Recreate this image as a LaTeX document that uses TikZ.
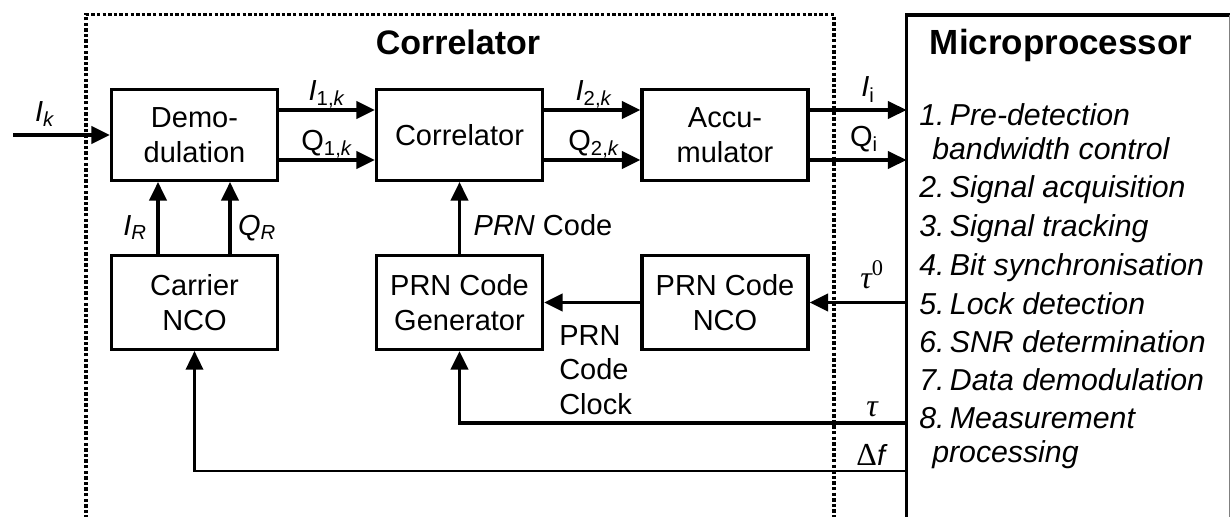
\documentclass[tikz,border=0pt]{standalone}
\usepackage{fontspec}
\setmainfont{Liberation Sans}
\newfontfamily\greekserif{Liberation Serif}
\usetikzlibrary{arrows.meta}
\newcommand\lbltext{\fontsize{21.75}{26}\selectfont}
\newcommand\steptext{\fontsize{22.7}{27}\selectfont\itshape}
\newcommand\headtext{\fontsize{25.5}{30}\selectfont\bfseries}
\newcommand\greektext{\fontsize{24}{28}\selectfont\greekserif}
\newcommand\nsp{\kern0.18em}
\begin{document}
\begin{tikzpicture}[x=0.75pt,y=-0.75pt,
  block/.style={draw, line width=2.5pt, inner sep=0pt, outer sep=1.25pt, align=center,
    font=\lbltext, minimum width=124.3pt, minimum height=68pt},
  ncoblock/.style={block, minimum height=70.3pt},
  flow/.style={line width=2.6pt, -{Triangle[length=14pt,width=13pt]}},
  feed/.style={flow, line width=1.9pt},
  lbl/.style={font=\lbltext, inner sep=0pt, anchor=base},
  item/.style={font=\steptext, inner sep=0pt, anchor=base west},
  head/.style={font=\headtext, inner sep=0pt, anchor=base},
  frame/.style={line width=2.6pt, dash pattern=on 2.6pt off 1.6pt}
]
\useasboundingbox (0,0) rectangle (1231,517);
\fill[white] (0,0) rectangle (1231,517);

% correlator frame (dotted, open at the bottom)
\draw[frame] (86,530) -- (86,14.5) -- (834,14.5) -- (834,530);
\node[head] (corrtitle) at (458,55) {Correlator};

% microprocessor box
\node[draw=none, inner sep=0pt, outer sep=0pt, minimum width=242.25pt, minimum height=408.75pt]
  (micro) at (1068,287.5) {};
\draw[line width=2.5pt] (micro.south west) -- (micro.north west) -- (micro.north east);
\draw[line width=0.9pt, gray] (micro.north east) -- (micro.south east);
\node[head, font=\fontsize{26.2}{30}\selectfont\bfseries] (microtitle) at (1061,55) {Microprocessor};

% processing steps
\node[item] (s1)  at (919,125) {1.\nsp Pre-detection};
\node[item] (s1b) at (932,159) {bandwidth control};
\node[item] (s2)  at (919,197) {2.\nsp Signal acquisition};
\node[item] (s3)  at (919,236) {3.\nsp Signal tracking};
\node[item] (s4)  at (919,275) {4.\nsp Bit synchronisation};
\node[item] (s5)  at (919,314) {5.\nsp Lock detection};
\node[item] (s6)  at (919,352) {6.\nsp SNR determination};
\node[item] (s7)  at (919,390) {7.\nsp Data demodulation};
\node[item] (s8)  at (919,428) {8.\nsp Measurement};
\node[item] (s8b) at (932,462) {processing};

% signal blocks
\node[block] (demod)   at (194.5,135)   {Demo-\\dulation};
\node[block] (corr)    at (459.5,135)   {Correlator};
\node[block] (accum)   at (725,135)     {Accu-\\mulator};
\node[ncoblock] (carrier) at (194.5,302.5) {Carrier\\NCO};
\node[ncoblock] (prngen)  at (459.5,302.5) {PRN Code\\Generator};
\node[ncoblock] (prnnco)  at (725,302.5)   {PRN Code\\NCO};

% input
\coordinate (input) at (13,135);
\draw[flow] (input) -- (demod.west);
\node[lbl] (lIk) at (45,121) {\textit{I}\textsubscript{\textit{k}}};

% forward path
\draw[flow] (demod.east |- 0,110) -- (corr.west |- 0,110);
\draw[flow] (demod.east |- 0,160) -- (corr.west |- 0,160);
\draw[flow] (corr.east |- 0,110) -- (accum.west |- 0,110);
\draw[flow] (corr.east |- 0,160) -- (accum.west |- 0,160);
\draw[flow] (accum.east |- 0,110) -- (micro.west |- 0,110);
\draw[flow] (accum.east |- 0,160) -- (micro.west |- 0,160);
\node[lbl] (lI1) at (327,100) {\textit{I}\textsubscript{1,\textit{k}}};
\node[lbl] (lQ1) at (327,150) {Q\textsubscript{1,\textit{k}}};
\node[lbl] (lI2) at (594,100) {\textit{I}\textsubscript{2,\textit{k}}};
\node[lbl] (lQ2) at (594,150) {Q\textsubscript{2,\textit{k}}};
\node[lbl] (lIi) at (868,97)  {\textit{I}\textsubscript{i}};
\node[lbl] (lQi) at (864,146) {Q\textsubscript{i}};

% local replica path
\draw[flow] (carrier.north -| 158,0) -- (demod.south -| 158,0);
\draw[flow] (carrier.north -| 230,0) -- (demod.south -| 230,0);
\node[lbl] (lIR) at (135,235) {\textit{I}\textsubscript{\textit{R}}};
\node[lbl] (lQR) at (257,235) {\textit{Q}\textsubscript{\textit{R}}};

\draw[flow] (prngen.north) -- (corr.south);
\node[lbl] (lprn) at (543,235) {\textit{PRN} Code};

\draw[flow] (prnnco.west) -- (prngen.east);
\node[font=\lbltext, inner sep=0pt, anchor=north west, align=left] (lclock) at (559,325)
  {PRN\\Code\\Clock};

% feedback from the microprocessor
\draw[flow] (micro.west |- prnnco.east) -- (prnnco.east);
\node[lbl, font=\greektext] (ltau0) at (872,288) {{\itshape τ}\textsuperscript{0}};

\draw[flow] (micro.west |- 0,423) -| (prngen.south);
\node[lbl] (ltau) at (872,416) {{\greektext\itshape τ}};

\draw[feed] (micro.west |- 0,471) -| (carrier.south);
\node[lbl] (ldf) at (872,465) {{\greektext Δ}\textit{f}};
\end{tikzpicture}
\end{document}
